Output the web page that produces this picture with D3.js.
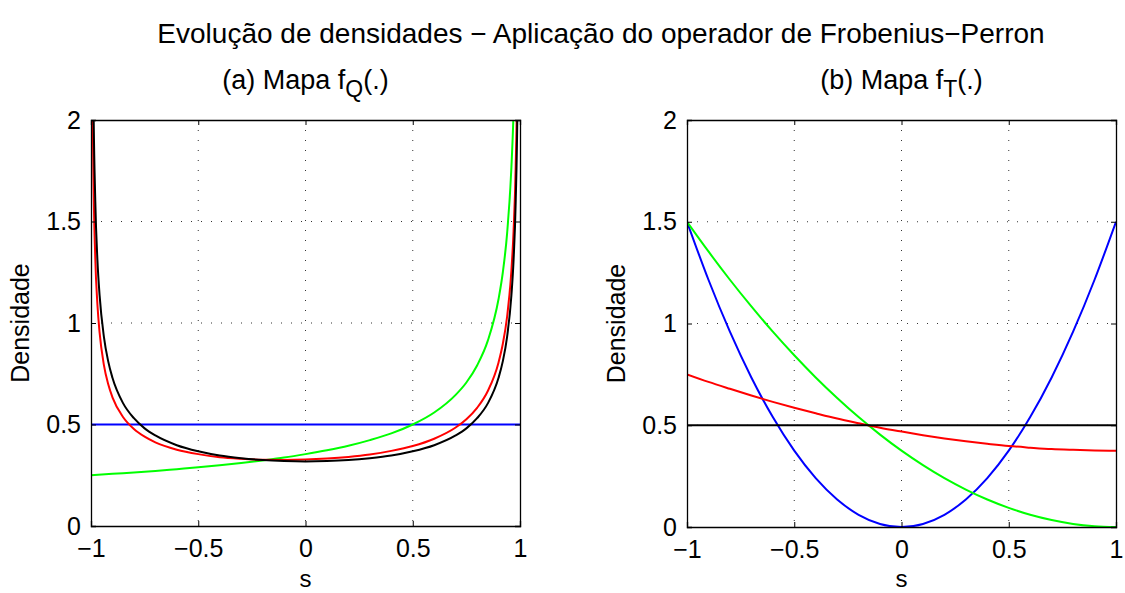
<!DOCTYPE html>
<meta charset="utf-8">
<html>
<head>
<script type="text/javascript" src="https://d3js.org/d3.v7.js"></script>
</head>
<body style="margin:0;background:white">
<div id="plotArea"></div>
<style>
  text { font-family: "Liberation Sans", Arial, sans-serif; fill: black; }
</style>
<script>
  // ----- data -----
  // panel (a): map f_Q
  const sQ = [-0.999, -0.995, -0.99, -0.98, -0.97, -0.96, -0.94, -0.92, -0.9, -0.85,
              -0.8, -0.75, -0.7, -0.6, -0.5, -0.4, -0.3, -0.2, -0.1, 0,
              0.1, 0.2, 0.3, 0.4, 0.5, 0.6, 0.7, 0.75, 0.8, 0.85,
              0.9, 0.92, 0.94, 0.96, 0.97, 0.98, 0.99, 0.995, 0.999]
  const blackQ = [7.12, 3.187, 2.256, 1.600, 1.309, 1.137, 0.933, 0.812, 0.730, 0.604,
                  0.531, 0.481, 0.446, 0.398, 0.368, 0.347, 0.334, 0.325, 0.320, 0.318,
                  0.320, 0.325, 0.334, 0.347, 0.368, 0.398, 0.446, 0.481, 0.531, 0.604,
                  0.730, 0.812, 0.933, 1.137, 1.309, 1.600, 2.256, 3.187, 7.12]
  const redQ = [5.654, 2.566, 1.835, 1.318, 1.090, 0.954, 0.794, 0.699, 0.634, 0.536,
                0.478, 0.440, 0.412, 0.376, 0.354, 0.339, 0.331, 0.326, 0.325, 0.327,
                0.332, 0.340, 0.352, 0.370, 0.394, 0.430, 0.485, 0.526, 0.582, 0.665,
                0.806, 0.898, 1.032, 1.260, 1.452, 1.775, 2.505, 3.539, 7.907]
  const sQgreen = [-1, -0.9, -0.8, -0.7, -0.6, -0.5, -0.4, -0.3, -0.2, -0.1, 0,
                   0.1, 0.2, 0.3, 0.4, 0.5, 0.6, 0.7, 0.75, 0.8, 0.85, 0.9,
                   0.92, 0.94, 0.96, 0.97, 0.98, 0.99]
  const greenQ = [0.25, 0.257, 0.264, 0.271, 0.280, 0.289, 0.299, 0.310, 0.323, 0.337, 0.354,
                  0.373, 0.395, 0.423, 0.456, 0.5, 0.559, 0.646, 0.707, 0.791, 0.913, 1.118,
                  1.25, 1.443, 1.768, 2.041, 2.5, 3.536]
  const sQblue = [-1, 1]
  const blueQ = [0.5, 0.5]

  // panel (b): map f_T
  const sT = [-1, -0.9, -0.8, -0.7, -0.6, -0.5, -0.4, -0.3, -0.2, -0.1, 0,
              0.1, 0.2, 0.3, 0.4, 0.5, 0.6, 0.7, 0.8, 0.9, 1]
  const blueT = [1.5, 1.215, 0.96, 0.735, 0.54, 0.375, 0.24, 0.135, 0.06, 0.015, 0,
                 0.015, 0.06, 0.135, 0.24, 0.375, 0.54, 0.735, 0.96, 1.215, 1.5]
  const greenT = [1.5, 1.354, 1.215, 1.084, 0.96, 0.844, 0.735, 0.634, 0.54, 0.454, 0.375,
                  0.304, 0.24, 0.184, 0.135, 0.094, 0.06, 0.034, 0.015, 0.004, 0]
  const redT = [0.75, 0.713, 0.679, 0.646, 0.615, 0.586, 0.559, 0.533, 0.51, 0.488, 0.469,
                0.451, 0.435, 0.421, 0.409, 0.398, 0.39, 0.383, 0.379, 0.376, 0.375]
  const sTblack = [-1, 1]
  const blackT = [0.5, 0.5]

  const xTicks = [-1, -0.5, 0, 0.5, 1]
  const yTicks = [0, 0.5, 1, 1.5, 2]

  const W = 1125, H = 593
  const svg = d3.select("#plotArea").append("svg")
                .attr("width", W).attr("height", H)

  // figure title
  svg.append("text")
     .attr("x", 601).attr("y", 43)
     .style("text-anchor", "middle").style("font-size", "28px")
     .text("Evolução de densidades \u2212 Aplicação do operador de Frobenius\u2212Perron")

  const fmt = function(d){ return String(d).replace("-", "\u2212") }

  function panel(id, left, top, width, height, sub, series) {
    const g = svg.append("g").attr("transform", `translate(${left},${top})`)
    const xScale = d3.scaleLinear().domain([-1, 1]).range([0, width])
    const yScale = d3.scaleLinear().domain([0, 2]).range([height, 0])

    // dotted grid
    g.append("g").selectAll("line").data(xTicks.slice(1, -1)).enter().append("line")
      .attr("x1", d => xScale(d)).attr("x2", d => xScale(d))
      .attr("y1", 0).attr("y2", height)
      .attr("stroke", "#333").attr("stroke-width", 1).attr("stroke-dasharray", "1,9")
    g.append("g").selectAll("line").data(yTicks.slice(1, -1)).enter().append("line")
      .attr("y1", d => yScale(d)).attr("y2", d => yScale(d))
      .attr("x1", 0).attr("x2", width)
      .attr("stroke", "#333").attr("stroke-width", 1).attr("stroke-dasharray", "1,9")

    // curves
    g.append("clipPath").attr("id", "clip" + id)
      .append("rect").attr("width", width).attr("height", height)
    const line = d3.line().x(d => xScale(d[0])).y(d => yScale(d[1])).curve(d3.curveMonotoneX)
    const curves = g.append("g").attr("clip-path", `url(#clip${id})`)
    series.forEach(function(s) {
      curves.append("path")
        .datum(d3.zip(s.x, s.y))
        .attr("d", line)
        .attr("fill", "none")
        .attr("stroke", s.color)
        .attr("stroke-width", 2)
    })

    // axes (ticks inside, box all round)
    const ax = g.append("g").attr("transform", `translate(0,${height})`)
      .call(d3.axisBottom(xScale).tickValues(xTicks).tickSize(-5).tickPadding(8).tickFormat(fmt))
    const ax2 = g.append("g").call(d3.axisTop(xScale).tickValues(xTicks).tickSize(-5).tickFormat(""))
    const ay = g.append("g")
      .call(d3.axisLeft(yScale).tickValues(yTicks).tickSize(-5).tickPadding(10).tickFormat(fmt))
    const ay2 = g.append("g").attr("transform", `translate(${width},0)`)
      .call(d3.axisRight(yScale).tickValues(yTicks).tickSize(-5).tickFormat(""))
    ;[ax, ax2, ay, ay2].forEach(function(a) {
      a.select(".domain").attr("stroke", "black").attr("stroke-width", 1.3)
      a.selectAll(".tick line").attr("stroke", "black")
      a.selectAll(".tick text").style("font-size", "25px").attr("fill", "black")
        .style("font-family", '"Liberation Sans", Arial, sans-serif')
    })
    ax.selectAll(".tick text").attr("dy", "0.9em")

    // subtitle with subscript
    const t = g.append("text").attr("x", width / 2).attr("y", -31)
      .style("text-anchor", "middle").style("font-size", "27px")
    t.append("tspan").text("(" + id + ") Mapa f")
    t.append("tspan").attr("dy", 8).style("font-size", "23px").text(sub)
    t.append("tspan").attr("dy", -8).text("(.)")

    // axis labels
    g.append("text").attr("x", width / 2).attr("y", 587 - top)
      .style("text-anchor", "middle").style("font-size", "24px").text("s")
    g.append("text")
      .attr("transform", `translate(${-62},${height / 2}) rotate(-90)`)
      .style("text-anchor", "middle").style("font-size", "25px").text("Densidade")
  }

  panel("a", 91, 120, 429, 406, "Q", [
    {x: sQblue, y: blueQ, color: "#0000ff"},
    {x: sQgreen, y: greenQ, color: "#00ff00"},
    {x: sQ, y: redQ, color: "#ff0000"},
    {x: sQ, y: blackQ, color: "#000000"}
  ])
  panel("b", 687, 120, 429, 407, "T", [
    {x: sT, y: blueT, color: "#0000ff"},
    {x: sT, y: greenT, color: "#00ff00"},
    {x: sT, y: redT, color: "#ff0000"},
    {x: sTblack, y: blackT, color: "#000000"}
  ])
</script>
</body>
</html>
